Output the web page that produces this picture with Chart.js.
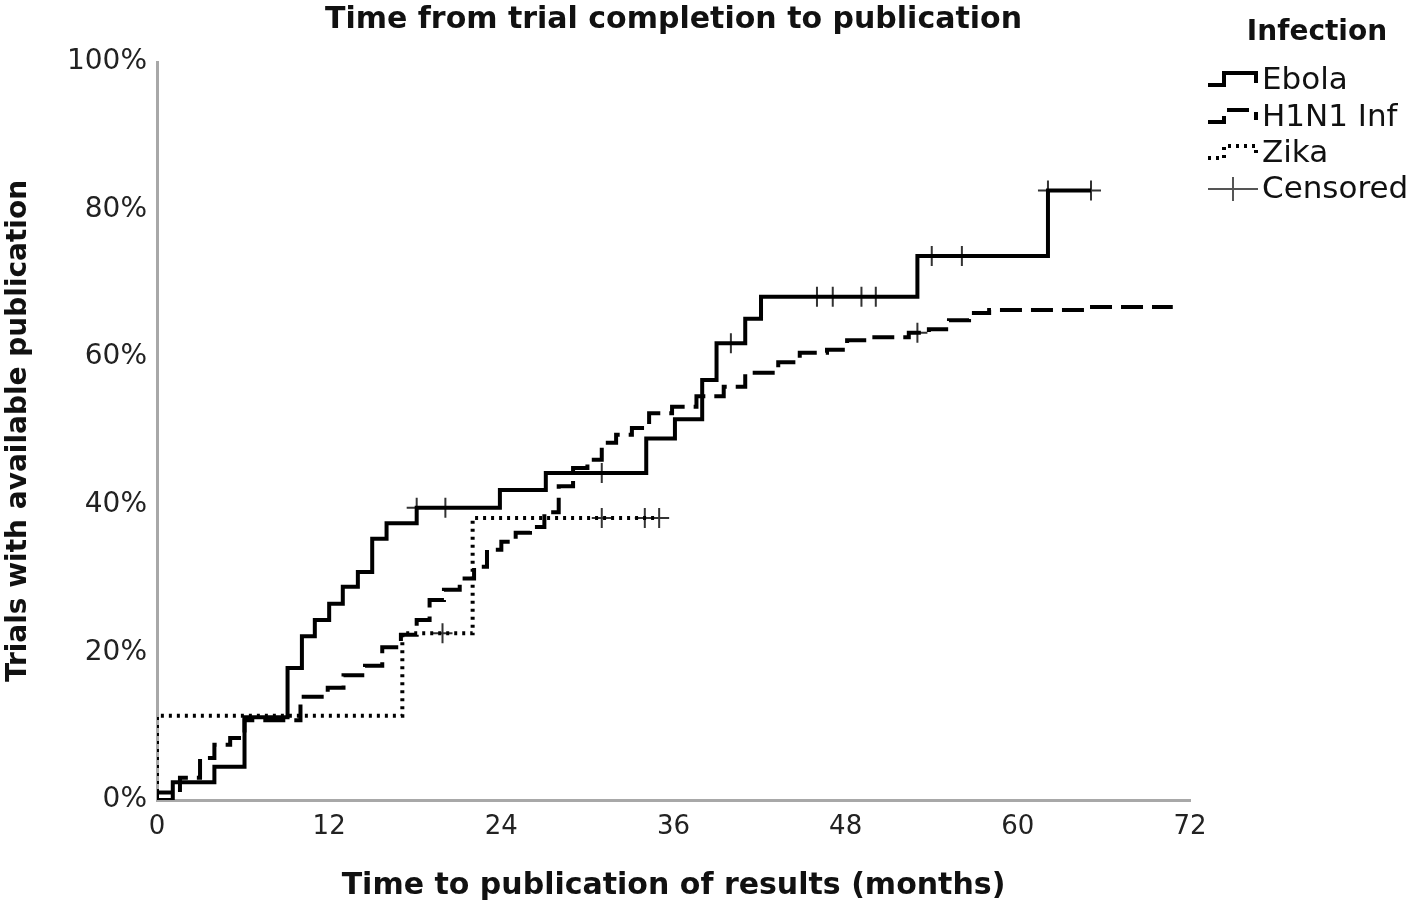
<!DOCTYPE html>
<html>
<head>
<meta charset="utf-8">
<title>Time from trial completion to publication</title>
<script src="https://cdn.jsdelivr.net/npm/chart.js@4.4.0/dist/chart.umd.min.js"></script>
<style>
    html, body { margin: 0; padding: 0; background: #fff; }
    #wrap { width: 1416px; height: 906px; }
</style>
</head>
<body>
<div id="wrap"><canvas id="kmChart" width="1416" height="906"></canvas></div>
<script>
// Kaplan-Meier style cumulative publication curves (months, % published)
const chartTitle = 'Time from trial completion to publication';
const xTitle = 'Time to publication of results (months)';
const yTitle = 'Trials with available publication';
const legendTitle = 'Infection';
const seriesNames = ['Ebola', 'H1N1 Inf', 'Zika', 'Censored'];

const xTicks = [0, 12, 24, 36, 48, 60, 72];
const yTicks = [0, 20, 40, 60, 80, 100];

// Ebola
const ebolaMonths = [0, 1.1, 4.0, 6.1, 9.1, 10.1, 11.0, 12.0, 12.95, 14.0, 15.0, 16.0, 18.1, 23.9, 27.1, 34.1, 36.1, 38.0, 39.0, 41.0, 42.1, 53.0, 62.1, 65.1];
const ebolaPct = [0, 2.4, 4.5, 11.2, 17.9, 22.2, 24.4, 26.6, 28.9, 30.9, 35.4, 37.5, 39.6, 42.0, 44.3, 49.0, 51.6, 56.9, 61.9, 65.2, 68.2, 73.7, 82.6, 82.6];
const ebolaCensMonths = [18.1, 20.1, 31.0, 40.0, 46.0, 47.1, 49.1, 50.1, 54.0, 56.1, 62.1, 65.1];
const ebolaCensPct = [39.6, 39.6, 44.3, 61.9, 68.2, 68.2, 68.2, 68.2, 73.7, 73.7, 82.6, 82.6];

// H1N1 influenza
const h1n1Months = [0, 0, 1.6, 3.0, 4.0, 5.1, 6.1, 10.0, 11.9, 13.0, 14.5, 15.7, 17.0, 18.1, 19.0, 20.0, 21.1, 22.1, 23.0, 24.0, 25.0, 26.0, 27.0, 28.0, 29.0, 30.0, 31.0, 32.0, 33.1, 34.3, 35.9, 37.6, 39.5, 41.0, 43.3, 44.8, 46.7, 48.1, 50.0, 52.4, 53.8, 55.2, 56.6, 58.0, 65.0, 70.8];
const h1n1Pct = [0, 1.0, 3.0, 5.7, 7.5, 8.4, 10.8, 14.0, 15.2, 16.9, 18.2, 20.7, 22.4, 24.4, 27.1, 28.5, 30.0, 31.6, 33.9, 35.0, 36.2, 37.0, 39.0, 42.5, 45.0, 46.1, 48.4, 49.5, 50.4, 52.4, 53.3, 54.7, 56.0, 57.9, 59.3, 60.6, 61.0, 62.3, 62.7, 63.3, 63.8, 65.0, 66.0, 66.4, 66.8, 66.8];
const h1n1CensMonths = [53.0];
const h1n1CensPct = [63.3];

// Zika
const zikaMonths = [0, 0, 17.1, 22.0, 35.0];
const zikaPct = [0, 11.4, 22.6, 38.2, 38.2];
const zikaCensMonths = [19.9, 31.0, 34.0, 35.0];
const zikaCensPct = [22.6, 38.2, 38.2, 38.2];

const toPoints = (xs, ys) => xs.map((x, i) => ({ x: x, y: ys[i] }));

const censoredPoints = [
    ...toPoints(ebolaCensMonths, ebolaCensPct),
    ...toPoints(h1n1CensMonths, h1n1CensPct),
    ...toPoints(zikaCensMonths, zikaCensPct)
];

const titleFont = '"DejaVu Sans", sans-serif';
const tickFont = '"DejaVu Sans", sans-serif';

// 오른쪽 범례 (계단 모양 아이콘)
const infectionLegend = {
    id: 'infectionLegend',
    afterDraw(chart) {
        const ctx = chart.ctx;
        const x0 = 1208;
        const textX = 1262;
        const rowY = [80, 117, 153, 189];
        ctx.save();
        ctx.fillStyle = '#111';
        ctx.textBaseline = 'middle';
        ctx.textAlign = 'center';
        ctx.font = 'bold 28px ' + titleFont;
        ctx.fillText(legendTitle, 1317, 33);

        ctx.textAlign = 'left';
        ctx.font = '31px ' + tickFont;
        chart.data.datasets.forEach((ds, i) => {
            const y = rowY[i];
            ctx.strokeStyle = ds.borderColor;
            if (i < 3) {
                ctx.lineWidth = ds.borderWidth;
                ctx.setLineDash(ds.borderDash || []);
                ctx.beginPath();
                ctx.moveTo(x0, y + 5);
                ctx.lineTo(x0 + 16, y + 5);
                ctx.lineTo(x0 + 16, y - 7);
                ctx.lineTo(x0 + 48, y - 7);
                ctx.lineTo(x0 + 48, y + 3);
                ctx.stroke();
            } else {
                ctx.setLineDash([]);
                ctx.strokeStyle = '#555';
                ctx.lineWidth = 2;
                ctx.beginPath();
                ctx.moveTo(x0, y);
                ctx.lineTo(x0 + 50, y);
                ctx.moveTo(x0 + 25, y - 12);
                ctx.lineTo(x0 + 25, y + 12);
                ctx.stroke();
            }
            ctx.fillText(ds.label, textX, y + 1);
        });
        ctx.restore();
    }
};

const kmChart = new Chart(document.getElementById('kmChart').getContext('2d'), {
    type: 'line',
    data: {
        datasets: [
            {
                label: seriesNames[0],
                data: toPoints(ebolaMonths, ebolaPct),
                borderColor: '#000',
                borderWidth: 4,
                stepped: 'before',
                pointRadius: 0,
                fill: false
            },
            {
                label: seriesNames[1],
                data: toPoints(h1n1Months, h1n1Pct),
                borderColor: '#000',
                borderWidth: 4,
                borderDash: [22, 9],
                stepped: 'before',
                pointRadius: 0,
                fill: false
            },
            {
                label: seriesNames[2],
                data: toPoints(zikaMonths, zikaPct),
                borderColor: '#000',
                borderWidth: 4,
                borderDash: [3, 5],
                stepped: 'before',
                pointRadius: 0,
                fill: false
            },
            {
                label: seriesNames[3],
                data: censoredPoints,
                showLine: false,
                borderColor: '#333',
                backgroundColor: '#333',
                pointStyle: 'cross',
                pointRadius: 10,
                pointBorderWidth: 2,
                borderWidth: 2
            }
        ]
    },
    options: {
        responsive: false,
        devicePixelRatio: 1,
        animation: false,
        layout: { padding: { left: 0, right: 226, top: 0, bottom: 0 } },
        plugins: {
            legend: { display: false },
            tooltip: { enabled: false },
            title: {
                display: true,
                fullSize: false,
                text: chartTitle,
                color: '#111',
                font: { family: titleFont, size: 30, weight: 'bold', lineHeight: 1.2 },
                padding: { top: 2, bottom: 24 }
            }
        },
        scales: {
            x: {
                type: 'linear',
                min: 0,
                max: 72,
                afterBuildTicks: (scale) => { scale.ticks = xTicks.map(v => ({ value: v })); },
                ticks: {
                    color: '#222',
                    padding: 12,
                    font: { family: tickFont, size: 26 }
                },
                grid: { display: false, drawTicks: false },
                border: { display: true, color: '#a8a8a8', width: 3 },
                title: {
                    display: true,
                    text: xTitle,
                    color: '#111',
                    font: { family: titleFont, size: 30, weight: 'bold', lineHeight: 1.2 },
                    padding: { top: 0, bottom: 2 }
                },
                afterFit: (scale) => { scale.height = 106; }
            },
            y: {
                min: 0,
                max: 100,
                afterBuildTicks: (scale) => { scale.ticks = yTicks.map(v => ({ value: v })); },
                ticks: {
                    color: '#222',
                    padding: 10,
                    font: { family: tickFont, size: 28 },
                    callback: (v) => v + '%'
                },
                grid: { display: false, drawTicks: false },
                border: { display: true, color: '#a8a8a8', width: 3 },
                title: {
                    display: true,
                    text: yTitle,
                    color: '#111',
                    font: { family: titleFont, size: 28, weight: 'bold', lineHeight: 1.2 },
                    padding: { top: 2, bottom: 0 }
                },
                afterFit: (scale) => { scale.width = 157; }
            }
        }
    },
    plugins: [infectionLegend]
});
</script>
</body>
</html>
